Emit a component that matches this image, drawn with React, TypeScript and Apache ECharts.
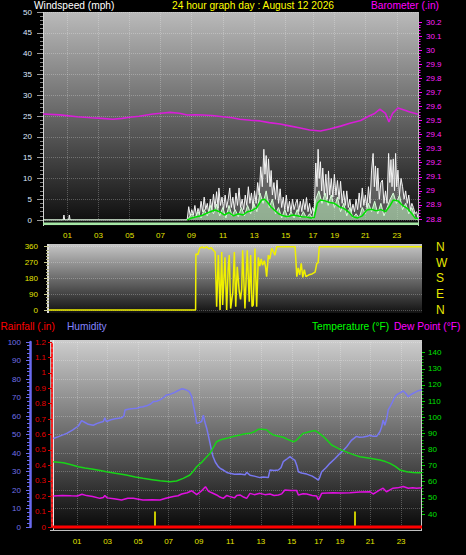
import { useEffect, useRef } from "react";
import * as echarts from "echarts";

const FONT = "'Liberation Sans', Arial, sans-serif";

// x positions of the hour labels along the time axis (irregular in the source)
const hourTickPos = [0.98, 2.98, 4.99, 6.98, 8.98, 11.02, 13.03, 15.06, 16.82, 18.22, 20.2, 22.23];
const hourTickLabels = ["01", "03", "05", "07", "09", "11", "13", "15", "17", "19", "21", "23"];
const compassLabels = ["N", "E", "S", "W", "N"];

// wind gust (mph)
const gustData: [number, number][] = [
  [-0.6, 0], [0.7, 0], [0.75, 1.2], [0.8, 0], [1.05, 0], [1.1, 1.2], [1.15, 0], [8.7, 0],
  [8.8, 3.2], [8.9, 1], [9.0, 2.5], [9.1, 1.2], [9.2, 3.5], [9.3, 1], [9.4, 2.8], [9.5, 1.5],
  [9.6, 4.5], [9.7, 2], [9.8, 5.5], [9.9, 2.5], [10.0, 4], [10.1, 1.5], [10.2, 5], [10.3, 2.5],
  [10.4, 6.2], [10.5, 3], [10.6, 6.8], [10.7, 2.8], [10.75, 7.7], [10.85, 3.5], [10.95, 5.5],
  [11.05, 2.5], [11.15, 6], [11.25, 3], [11.35, 5], [11.45, 7.7], [11.55, 3], [11.65, 5.5],
  [11.75, 2.5], [11.85, 6.5], [11.95, 3.5], [12.05, 7.7], [12.15, 3], [12.25, 5], [12.35, 2.5],
  [12.45, 6], [12.55, 3.5], [12.65, 8], [12.75, 4], [12.85, 6.5], [12.95, 3], [13.05, 7],
  [13.15, 4], [13.25, 9], [13.35, 6], [13.45, 12.8], [13.55, 8], [13.65, 17], [13.72, 11],
  [13.8, 15.5], [13.88, 9], [13.95, 14.7], [14.05, 8], [14.12, 11.9], [14.2, 6], [14.3, 9],
  [14.4, 5], [14.5, 9.6], [14.6, 4], [14.7, 7.5], [14.8, 3], [14.9, 5.5], [15.0, 2.5], [15.1, 6],
  [15.2, 2], [15.3, 4.5], [15.4, 2], [15.5, 5], [15.6, 2.5], [15.7, 4], [15.8, 5], [15.9, 2],
  [16.0, 4.5], [16.1, 2], [16.2, 5], [16.3, 2.5], [16.4, 5.4], [16.5, 2], [16.6, 4], [16.7, 1.5],
  [16.8, 3], [16.9, 2], [17.0, 13.7], [17.08, 8], [17.15, 17], [17.22, 10], [17.3, 14],
  [17.38, 7], [17.45, 12.5], [17.55, 6], [17.65, 11], [17.75, 5], [17.82, 11.8], [17.9, 6],
  [18.0, 10], [18.1, 5.5], [18.2, 11], [18.3, 6], [18.4, 9.5], [18.5, 5], [18.6, 9.3], [18.7, 4],
  [18.8, 7], [18.9, 3.5], [19.0, 7], [19.1, 3], [19.2, 5], [19.3, 2], [19.4, 3.8], [19.5, 2],
  [19.6, 5], [19.7, 2.5], [19.8, 6.5], [19.9, 3], [20.0, 7.7], [20.1, 3.5], [20.2, 6], [20.3, 3],
  [20.4, 8], [20.5, 4], [20.6, 12], [20.7, 16], [20.78, 8], [20.85, 13], [20.95, 7], [21.0, 12.5],
  [21.1, 5], [21.2, 9], [21.3, 9.6], [21.4, 4], [21.5, 7], [21.6, 4], [21.7, 16], [21.78, 9],
  [21.85, 14.5], [21.92, 8], [22.0, 14.7], [22.08, 7], [22.15, 16], [22.22, 8], [22.3, 12],
  [22.4, 6], [22.5, 10], [22.6, 8], [22.7, 5], [22.8, 7], [22.9, 4], [23.0, 6], [23.1, 2.5],
  [23.2, 4], [23.3, 3], [23.4, 1.5], [23.5, 2], [23.6, 0.5],
];

// wind speed (mph)
const windSpeedData: [number, number][] = [
  [-0.6, 0], [8.7, 0], [8.8, 0.5], [9.0, 1.5], [9.2, 0.5], [9.4, 2], [9.6, 0.5], [9.8, 2.5],
  [10.0, 1], [10.2, 3.5], [10.4, 1.5], [10.6, 3.8], [10.8, 1], [11.0, 3], [11.2, 0.5], [11.4, 3.5],
  [11.6, 1], [11.8, 2.5], [12.0, 0.8], [12.2, 3], [12.4, 1], [12.6, 3.5], [12.8, 1.5], [13.0, 4],
  [13.2, 2], [13.4, 6.5], [13.6, 4], [13.8, 7], [14.0, 3], [14.2, 5], [14.4, 1.5], [14.6, 3],
  [14.8, 0.5], [15.0, 2.5], [15.2, 0.5], [15.4, 2], [15.6, 0.5], [15.8, 2.5], [16.0, 0.5],
  [16.2, 2], [16.4, 0.5], [16.6, 1.5], [16.8, 0.3], [17.0, 5], [17.2, 7], [17.4, 4], [17.6, 6.5],
  [17.8, 3.5], [18.0, 6], [18.2, 3], [18.4, 5.5], [18.6, 2], [18.8, 4], [19.0, 1], [19.2, 3],
  [19.4, 0.5], [19.6, 1.5], [19.8, 0.5], [20.0, 3], [20.2, 1.5], [20.4, 4], [20.6, 2], [20.8, 4.5],
  [21.0, 1.5], [21.2, 4], [21.4, 1], [21.6, 3], [21.8, 5], [22.0, 6.5], [22.2, 4], [22.4, 6],
  [22.6, 2.5], [22.8, 4], [23.0, 1.5], [23.2, 3], [23.4, 0.5], [23.6, 0],
];

// average wind speed (mph)
const windAvgData: [number, number][] = [
  [8.7, 0], [9.0, 0.5], [9.3, 0.8], [9.6, 1], [9.9, 1.5], [10.2, 2], [10.5, 2.4], [10.8, 2],
  [11.1, 1.2], [11.4, 1.8], [11.7, 1], [12.0, 1.5], [12.3, 1.2], [12.6, 2], [12.9, 2.3], [13.2, 3],
  [13.5, 4.8], [13.7, 5], [13.9, 4.2], [14.1, 3.2], [14.3, 2.5], [14.6, 1.5], [14.9, 1], [15.2, 0.8],
  [15.5, 1.2], [15.8, 1], [16.1, 0.8], [16.4, 0.7], [16.7, 0.5], [16.9, 0.6], [17.1, 4], [17.3, 4.8],
  [17.6, 4.6], [17.9, 4.2], [18.2, 4], [18.5, 3.2], [18.8, 2.8], [19.1, 2], [19.4, 0.8], [19.7, 0.5],
  [20.0, 1], [20.3, 2.4], [20.6, 2.6], [20.9, 2.2], [21.2, 2.5], [21.5, 2], [21.8, 3.5], [22.0, 4.8],
  [22.3, 4.6], [22.6, 3.5], [22.9, 2.8], [23.2, 1.5], [23.4, 0.5], [23.6, 0.3],
];

// barometer (in)
const baroData: [number, number][] = [
  [-0.6, 29.546], [0.5, 29.54], [1.6, 29.527], [2.5, 29.52], [3.2, 29.515], [3.9, 29.509],
  [4.5, 29.515], [5.0, 29.523], [5.6, 29.53], [6.5, 29.546], [7.0, 29.552], [7.6, 29.558],
  [8.2, 29.552], [8.7, 29.539], [9.2, 29.54], [9.7, 29.539], [10.3, 29.535], [11.0, 29.527],
  [11.6, 29.52], [12.1, 29.509], [12.8, 29.502], [13.4, 29.497], [14.0, 29.485], [14.7, 29.475],
  [15.3, 29.462], [16.0, 29.447], [16.6, 29.432], [17.3, 29.425], [17.9, 29.44], [18.6, 29.46],
  [19.2, 29.48], [19.9, 29.5], [20.4, 29.53], [20.8, 29.55], [21.14, 29.58], [21.5, 29.55],
  [21.72, 29.49], [21.95, 29.55], [22.3, 29.589], [22.7, 29.575], [23.07, 29.56], [23.6, 29.545],
];

// wind direction (degrees)
const windDirData: [number, number][] = [
  [-0.6, 0], [8.93, 0], [8.95, 318], [9.08, 315], [9.2, 352], [9.35, 358], [9.5, 352], [9.65, 360],
  [9.8, 348], [9.95, 355], [10.08, 340], [10.2, 330], [10.3, 19], [10.41, 312], [10.52, 0],
  [10.63, 330], [10.69, 28], [10.84, 300], [10.95, 0], [11.05, 240], [11.12, 312], [11.21, 8],
  [11.35, 100], [11.45, 330], [11.54, 19], [11.64, 246], [11.77, 104], [11.85, 60], [11.93, 120],
  [11.99, 340], [12.14, 8], [12.29, 340], [12.42, 47], [12.51, 312], [12.6, 20], [12.68, 28],
  [12.79, 350], [12.9, 19], [13.01, 300], [13.1, 250], [13.2, 290], [13.28, 255], [13.4, 280],
  [13.48, 245], [13.55, 190], [13.66, 312], [13.75, 290], [13.88, 350], [14.0, 330], [14.09, 312],
  [14.2, 360], [15.4, 360], [15.51, 190], [15.6, 240], [15.7, 200], [15.8, 265], [15.9, 185],
  [16.0, 230], [16.1, 190], [16.3, 200], [16.5, 205], [16.7, 215], [16.81, 265], [16.9, 270],
  [16.97, 360], [23.65, 360],
];

// humidity (%)
const humidityData: [number, number][] = [
  [-0.58, 47.8], [-0.2, 49], [0.3, 50.6], [0.7, 52.5], [1.06, 54.6], [1.28, 57.5], [1.5, 56.5],
  [1.72, 55.5], [2.04, 55], [2.3, 56], [2.48, 56.5], [2.7, 57], [2.8, 59], [2.9, 57], [3.2, 58],
  [3.46, 58.5], [3.7, 58.8], [3.9, 59], [4.05, 60], [4.12, 63.2], [4.4, 63.8], [4.67, 64],
  [4.9, 64.2], [5.1, 64.7], [5.3, 65], [5.54, 65.5], [5.8, 66.5], [5.98, 67.8], [6.2, 68],
  [6.42, 68.7], [6.65, 70], [6.85, 71.4], [7.1, 71.8], [7.29, 72.4], [7.55, 73.5], [7.84, 74.7],
  [8.0, 74.5], [8.17, 74], [8.35, 73], [8.5, 70.5], [8.6, 66], [8.75, 60], [8.82, 56], [9.0, 56.5],
  [9.15, 57], [9.26, 60.5], [9.35, 57], [9.48, 53.4], [9.6, 49], [9.7, 45.2], [9.8, 41], [9.9, 38],
  [10.05, 35], [10.24, 32.6], [10.4, 31.5], [10.57, 30.8], [10.8, 29.5], [11.0, 29], [11.3, 28.5],
  [11.66, 28.6], [12.0, 28.2], [12.1, 29.5], [12.32, 28], [12.6, 27.5], [12.97, 26.7], [13.2, 27],
  [13.52, 26.7], [13.63, 30.8], [13.9, 30.5], [14.18, 30.8], [14.35, 32], [14.5, 35.3], [14.7, 36.5],
  [14.94, 38], [15.1, 37], [15.27, 36], [15.4, 33], [15.49, 29.9], [15.7, 29.2], [16.04, 28.6],
  [16.4, 27.5], [16.69, 26], [16.8, 25.3], [16.9, 27], [17.02, 29.9], [17.3, 32], [17.56, 34.4],
  [17.9, 37], [18.22, 39.8], [18.45, 41.5], [18.66, 43.4], [18.85, 45.5], [18.99, 47], [19.3, 49],
  [19.5, 48.5], [19.75, 48.7], [20.0, 49], [20.18, 49.6], [20.4, 49], [20.62, 49], [20.84, 51.5],
  [20.95, 54], [21.05, 57.8], [21.16, 55], [21.3, 59], [21.38, 63.2], [21.6, 66.5], [21.8, 70],
  [21.93, 71.4], [22.15, 72.5], [22.37, 73.5], [22.55, 72], [22.7, 70.4], [22.85, 71.5],
  [23.03, 72.3], [23.2, 73], [23.36, 73.7], [23.6, 74.2],
];

// temperature (F)
const tempData: [number, number][] = [
  [-0.58, 72.4], [0.08, 71.8], [0.6, 70.5], [1.06, 69.3], [1.5, 68.5], [2.04, 67.7], [2.5, 67],
  [2.9, 66.2], [3.5, 65.2], [4.2, 64.2], [4.8, 63], [5.3, 62.1], [5.9, 61.3], [6.42, 60.6],
  [7.07, 60], [7.5, 60.5], [7.94, 62.1], [8.38, 64.2], [8.6, 66.5], [8.82, 69.3], [9.2, 72.5],
  [9.7, 77.6], [10.13, 84.8], [10.4, 86], [10.79, 86.9], [11.2, 88], [11.66, 89], [12.0, 89.8],
  [12.32, 90], [12.6, 91], [12.86, 92.5], [13.1, 92.6], [13.41, 92.2], [13.6, 90.5], [13.85, 89],
  [14.2, 88.2], [14.5, 87.6], [14.85, 86], [15.16, 84.8], [15.35, 85.5], [15.49, 86.9],
  [15.81, 90], [16.2, 91], [16.58, 91.7], [16.8, 90.4], [17.13, 88], [17.4, 85.5], [17.67, 82.8],
  [17.95, 81.5], [18.22, 80.1], [18.55, 78.8], [18.88, 77.6], [19.2, 76.5], [19.53, 75.5],
  [20.18, 74.5], [20.84, 73.5], [21.2, 72.5], [21.5, 71.4], [21.85, 69.5], [22.15, 67.3],
  [22.6, 66.2], [23.0, 65.8], [23.36, 65.6], [23.6, 65.5],
];

// dew point (F)
const dewData: [number, number][] = [
  [-0.58, 51.2], [0, 51.5], [0.6, 51.3], [1.0, 51.2], [1.3, 52.2], [1.6, 51.4], [2.0, 50.8],
  [2.48, 49.7], [2.7, 50.2], [2.8, 51.5], [2.95, 50], [3.4, 49.5], [3.9, 48.7], [4.3, 49.8],
  [4.67, 49.7], [5.0, 49.2], [5.3, 48.7], [5.9, 48.9], [6.42, 48.7], [6.8, 49.8], [7.29, 50.9],
  [7.6, 51.3], [7.84, 52.4], [8.2, 53.2], [8.5, 54.4], [8.7, 53], [8.82, 52], [9.1, 54],
  [9.4, 56.9], [9.6, 54], [9.85, 53], [10.13, 51.8], [10.35, 50.5], [10.57, 49.7], [10.8, 51.5],
  [11.0, 50.8], [11.3, 50], [11.45, 51.5], [11.66, 51.8], [11.9, 50.5], [12.1, 49.7], [12.32, 52.8],
  [12.6, 52], [12.97, 52.8], [13.3, 52], [13.63, 52.4], [13.9, 51.5], [14.18, 51.8], [14.4, 52.5],
  [14.61, 54.9], [15.0, 54.5], [15.38, 54.5], [15.49, 51.8], [15.8, 52.5], [16.04, 52.4],
  [16.4, 51.5], [16.69, 51.2], [16.8, 48.8], [16.9, 50.5], [17.02, 52.8], [17.4, 53], [17.78, 53.2],
  [18.3, 53], [18.88, 53.2], [19.53, 53.6], [20.18, 53.8], [20.4, 52.4], [20.6, 53.5],
  [20.84, 54.9], [21.05, 56], [21.27, 53.8], [21.5, 55], [21.7, 56], [22.0, 56.2], [22.37, 57],
  [22.7, 56], [23.0, 56.2], [23.25, 56], [23.6, 56.2],
];

// rainfall (in)
const rainData: [number, number][] = [[-0.6, 0], [23.6, 0]];
const rainMarkPos = [6.1, 19.2];
const rainMarkValues = [0.1, 0.1];

const vgrad = (c0: string, c1: string) => ({
  type: "linear", x: 0, y: 0, x2: 0, y2: 1,
  colorStops: [{ offset: 0, color: c0 }, { offset: 1, color: c1 }],
});

const tickLabel = (v: number) => {
  const i = hourTickPos.findIndex((p) => Math.abs(p - v) < 1e-6);
  return i >= 0 ? hourTickLabels[i] : "";
};

const splitDotted = { show: true, lineStyle: { color: "rgba(255,255,255,0.25)", type: "dotted", width: 1 } };

function timeAxis(gridIndex: number, min: number, max: number, labels: boolean, split: boolean, margin = 11) {
  return {
    type: "value", gridIndex, min, max,
    axisLine: { show: false, onZero: false },
    axisTick: { show: false, customValues: hourTickPos },
    axisLabel: {
      show: labels, customValues: hourTickPos, formatter: tickLabel,
      color: "#e4e400", fontSize: 8, fontFamily: FONT, margin,
    },
    splitLine: split ? splitDotted : { show: false },
  };
}

export default function App() {
  const ref = useRef<HTMLDivElement>(null);
  useEffect(() => {
    document.body.style.margin = "0";
    document.body.style.background = "#000";
    const chart = echarts.init(ref.current!, undefined, { renderer: "svg" });
    const titleFont = `10.2px ${FONT}`;
    const option: any = {
      animation: false,
      backgroundColor: "#000",
      textStyle: { fontFamily: FONT },
      graphic: [
        { type: "rect", z: -10, silent: true, shape: { x: 43, y: 12, width: 376, height: 214 }, style: { fill: vgrad("#bababa", "#0b0b0b") } },
        { type: "rect", z: -10, silent: true, shape: { x: 47, y: 244, width: 375, height: 69 }, style: { fill: vgrad("#c6c6c6", "#121212") } },
        { type: "rect", z: -10, silent: true, shape: { x: 50, y: 340, width: 372, height: 191 }, style: { fill: vgrad("#cdcdcd", "#060606") } },
        { type: "line", z: -5, silent: true, shape: { x1: 43.5, y1: 12, x2: 43.5, y2: 226 }, style: { stroke: "#d4d4d4", lineWidth: 1 } },
        { type: "line", z: -5, silent: true, shape: { x1: 418.5, y1: 12, x2: 418.5, y2: 226 }, style: { stroke: "#bdbdbd", lineWidth: 1 } },
        { type: "rect", z: -5, silent: true, shape: { x: 43, y: 222.5, width: 376, height: 2.5 }, style: { fill: "#a6e6a6" } },
        { type: "line", z: -5, silent: true, shape: { x1: 48, y1: 244, x2: 48, y2: 313 }, style: { stroke: "#dcdcdc", lineWidth: 2 } },
        { type: "line", z: -5, silent: true, shape: { x1: 53.5, y1: 340, x2: 53.5, y2: 531 }, style: { stroke: "#e6e6e6", lineWidth: 1 } },
        { type: "line", z: -5, silent: true, shape: { x1: 50, y1: 530.5, x2: 422, y2: 530.5 }, style: { stroke: "#c0c0c0", lineWidth: 1 } },
        { type: "line", z: -5, silent: true, shape: { x1: 421.5, y1: 340, x2: 421.5, y2: 531 }, style: { stroke: "#c8c8c8", lineWidth: 1 } },
        { type: "text", z: 10, x: 34, y: 5.5, style: { text: "Windspeed (mph)", fill: "#ffffff", font: titleFont, textVerticalAlign: "middle" } },
        { type: "text", z: 10, x: 172, y: 5.5, style: { text: "24 hour graph day : August 12 2026", fill: "#ffff00", font: titleFont, textVerticalAlign: "middle" } },
        { type: "text", z: 10, x: 371, y: 5.5, style: { text: "Barometer (.in)", fill: "#ff00ff", font: titleFont, textVerticalAlign: "middle" } },
        { type: "text", z: 10, x: 0.5, y: 326.5, style: { text: "Rainfall (.in)", fill: "#ff0000", font: titleFont, textVerticalAlign: "middle" } },
        { type: "text", z: 10, x: 67, y: 326.5, style: { text: "Humidity", fill: "#8484ff", font: titleFont, textVerticalAlign: "middle" } },
        { type: "text", z: 10, x: 312, y: 326.5, style: { text: "Temperature (°F)", fill: "#00ff00", font: titleFont, textVerticalAlign: "middle" } },
        { type: "text", z: 10, x: 394, y: 326.5, style: { text: "Dew Point (°F)", fill: "#ff00ff", font: titleFont, textVerticalAlign: "middle" } },
      ],
      grid: [
        { left: 43, top: 12, width: 376, height: 208 },
        { left: 43, top: 22, width: 376, height: 197 },
        { left: 49, top: 246.7, width: 373, height: 63.3 },
        { left: 53, top: 342, width: 369, height: 185 },
        { left: 53, top: 352.7, width: 369, height: 161.3 },
      ],
      xAxis: [
        timeAxis(0, -0.6, 23.66, true, true, 11),
        timeAxis(1, -0.6, 23.66, false, false),
        timeAxis(2, -0.6, 23.65, false, false),
        timeAxis(3, -0.6, 23.6, true, true, 10.5),
        timeAxis(4, -0.6, 23.6, false, false),
      ],
      yAxis: [
        {
          type: "value", gridIndex: 0, position: "left", min: 0, max: 50, interval: 5,
          axisLine: { show: false, onZero: false },
          axisTick: { show: true, length: 6, lineStyle: { color: "#9a9a9a" } },
          minorTick: { show: true, splitNumber: 5, length: 3, lineStyle: { color: "#8a8a8a" } },
          axisLabel: { color: "#dfe8ff", fontSize: 8, fontFamily: FONT, margin: 11 },
          splitLine: splitDotted,
        },
        {
          type: "value", gridIndex: 1, position: "right", min: 28.8, max: 30.2, interval: 0.1,
          axisLine: { show: false, onZero: false },
          axisTick: { show: true, length: 3, lineStyle: { color: "#ff00ff" } },
          minorTick: { show: true, splitNumber: 5, length: 1.5, lineStyle: { color: "#ff00ff" } },
          axisLabel: { color: "#ff20ff", fontSize: 8, fontFamily: FONT, margin: 7 },
          splitLine: { show: false },
        },
        {
          type: "value", gridIndex: 2, position: "left", min: 0, max: 360, interval: 90,
          axisLine: { show: false, onZero: false },
          axisTick: { show: true, length: 5, lineStyle: { color: "#c8c890" } },
          minorTick: { show: true, splitNumber: 5, length: 3, lineStyle: { color: "#b0b080" } },
          axisLabel: { color: "#e4e400", fontSize: 8, fontFamily: FONT, margin: 11 },
          splitLine: splitDotted,
        },
        {
          type: "value", gridIndex: 2, position: "right", min: 0, max: 360, interval: 90,
          axisLine: { show: false, onZero: false }, axisTick: { show: false }, splitLine: { show: false },
          axisLabel: {
            color: "#e8e800", fontSize: 12, fontFamily: FONT, margin: 14,
            formatter: (v: number) => compassLabels[Math.round(v / 90)],
          },
        },
        {
          type: "value", gridIndex: 3, position: "left", offset: 23, min: 0, max: 100, interval: 10,
          axisLine: { show: true, onZero: false, lineStyle: { color: "#6a6af0", width: 2.5 } },
          axisTick: { show: true, length: 4, lineStyle: { color: "#6a6af0" } },
          minorTick: { show: true, splitNumber: 5, length: 3, lineStyle: { color: "#6a6af0" } },
          axisLabel: { color: "#7070e8", fontSize: 8, fontFamily: FONT, margin: 9 },
          splitLine: splitDotted,
        },
        {
          type: "value", gridIndex: 3, position: "left", offset: 1, min: 0, max: 1.2, interval: 0.1,
          axisLine: { show: true, onZero: false, lineStyle: { color: "#ff2020", width: 2, type: [3, 2] } },
          axisTick: { show: true, length: 4, lineStyle: { color: "#e00000" } },
          axisLabel: { color: "#e80000", fontSize: 8, fontFamily: FONT, margin: 6 },
          splitLine: { show: false },
        },
        {
          type: "value", gridIndex: 4, position: "right", min: 40, max: 140, interval: 10,
          axisLine: { show: false, onZero: false },
          axisTick: { show: true, length: 3, lineStyle: { color: "#00d000" } },
          minorTick: { show: true, splitNumber: 5, length: 1.5, lineStyle: { color: "#00c000" } },
          axisLabel: { color: "#00e000", fontSize: 8, fontFamily: FONT, margin: 6 },
          splitLine: { show: false },
        },
      ],
      series: [
        {
          name: "Gust", type: "line", xAxisIndex: 0, yAxisIndex: 0, data: gustData, symbol: "none", z: 3,
          lineStyle: { color: "#f4f4f4", width: 1 }, areaStyle: { color: "rgba(235,235,235,0.42)" },
        },
        {
          name: "Wind speed", type: "line", xAxisIndex: 0, yAxisIndex: 0, data: windSpeedData, symbol: "none", z: 4,
          lineStyle: { color: "#d8ffd8", width: 1 }, areaStyle: { color: "rgba(190,236,190,0.85)" },
        },
        {
          name: "Wind avg", type: "line", xAxisIndex: 0, yAxisIndex: 0, data: windAvgData, symbol: "none", z: 5,
          lineStyle: { color: "#00e000", width: 1.5 },
        },
        {
          name: "Barometer", type: "line", xAxisIndex: 1, yAxisIndex: 1, data: baroData, symbol: "none", z: 5,
          lineStyle: { color: "#d81ed8", width: 1.6 },
        },
        {
          name: "Wind direction", type: "line", xAxisIndex: 2, yAxisIndex: 2, data: windDirData, symbol: "none", z: 5,
          lineStyle: { color: "#f0f000", width: 1.5 }, clip: false,
        },
        {
          name: "Humidity", type: "line", xAxisIndex: 3, yAxisIndex: 4, data: humidityData, symbol: "none", z: 5,
          lineStyle: { color: "#7878f0", width: 1.5 },
        },
        {
          name: "Rainfall", type: "line", xAxisIndex: 3, yAxisIndex: 5, data: rainData, symbol: "none", z: 6,
          lineStyle: { color: "#ff0000", width: 3 }, clip: false,
          markLine: {
            symbol: "none", silent: true, label: { show: false },
            lineStyle: { color: "#c8c800", width: 2, type: "solid" },
            data: rainMarkPos.map((p, i) => [{ coord: [p, 0] }, { coord: [p, rainMarkValues[i]] }]),
          },
        },
        {
          name: "Temperature", type: "line", xAxisIndex: 4, yAxisIndex: 6, data: tempData, symbol: "none", z: 5,
          lineStyle: { color: "#18d418", width: 1.5 },
        },
        {
          name: "Dew Point", type: "line", xAxisIndex: 4, yAxisIndex: 6, data: dewData, symbol: "none", z: 5,
          lineStyle: { color: "#e010e0", width: 1.5 },
        },
      ],
    };
    chart.setOption(option);
    return () => chart.dispose();
  }, []);
  return <div ref={ref} style={{ width: 466, height: 555, background: "#000" }} />;
}
